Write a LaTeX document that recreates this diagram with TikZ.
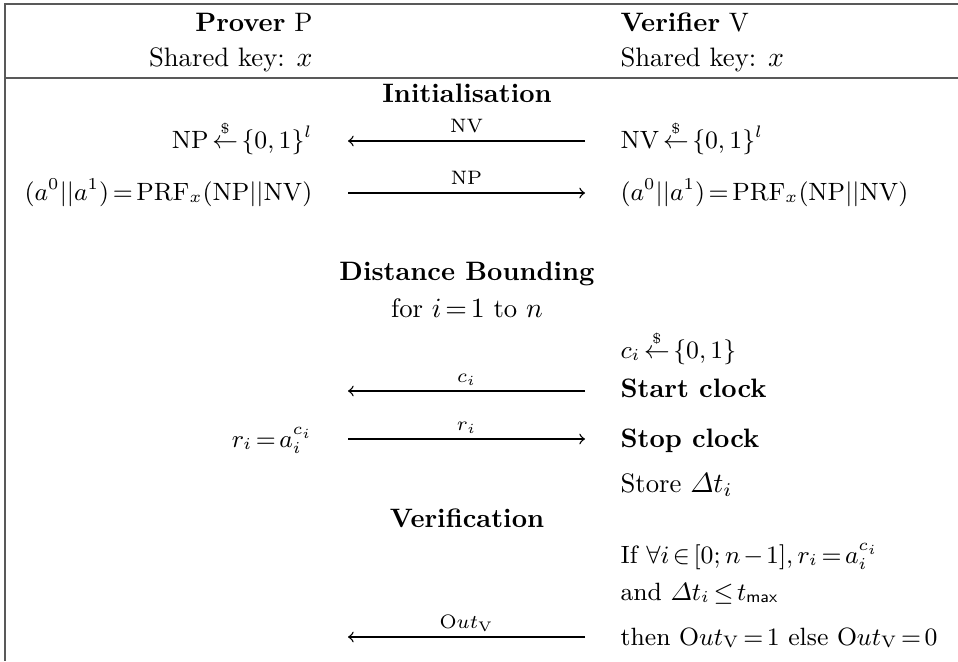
\documentclass[tikz,border=0pt]{standalone}
\usepackage{amsmath}
\usetikzlibrary{positioning}

\thickmuskip=2.5mu plus 2mu
\medmuskip=2mu plus 1mu

\begin{document}
\begin{tikzpicture}[
    x=0.36pt, y=-0.36pt,
    every node/.style={font=\fontsize{9.6pt}{11pt}\selectfont},
    prover/.style={anchor=base east, inner sep=0pt},
    verifier/.style={anchor=base west, inner sep=0pt},
    phase/.style={anchor=base, inner sep=0pt},
    mathrow/.style={font=\fontsize{9pt}{11pt}\selectfont},
    msg/.style={->, line width=0.5pt},
    msglabel/.style={anchor=base, inner sep=0pt, yshift=3pt, font=\scriptsize},
    rule/.style={draw=black!65, line width=0.7pt}
]

    % Columnas del protocolo
    \def\xP{313}
    \def\xM{467}
    \def\xV{620}
    \def\xA{348}
    \def\xB{585}
    \def\rnd{\overset{\scriptscriptstyle\$}{\leftarrow}}

    \useasboundingbox (0,0) rectangle (958,661);

    % Marco de la tabla
    \coordinate (TL) at (5,4);
    \coordinate (TR) at (958,4);
    \coordinate (ML) at (5,78);
    \coordinate (MR) at (958,78);
    \coordinate (BL) at (5,661);
    \draw[rule] (TR) -- (TL) -- (BL);
    \draw[rule] (ML) -- (MR);

    % Cabecera
    \node[prover] (hP) at (\xP,32) {\textbf{Prover} P};
    \node[prover] (kP) at (\xP,67) {Shared key: $x$};
    \node[verifier] (hV) at (\xV,32) {\textbf{Verifier} V};
    \node[verifier] (kV) at (\xV,67) {Shared key: $x$};

    % Inicializacion
    \node[phase] (init) at (\xM,103) {\textbf{Initialisation}};
    \node[prover, mathrow] (nP) at (\xP,148) {$\mathrm{NP}\rnd\{0,1\}^l$};
    \node[verifier, mathrow] (nV) at (\xV,148) {$\mathrm{NV}\rnd\{0,1\}^l$};
    \coordinate (m1r) at (\xB,141);
    \coordinate (m1l) at (\xA,141);
    \draw[msg] (m1r) -- (m1l) node[midway, msglabel] {NV};

    \node[prover, mathrow] (prfP) at (\xP,200) {$(a^0||a^1)=\mathrm{PRF}_x(\mathrm{NP}||\mathrm{NV})$};
    \node[verifier, mathrow] (prfV) at (\xV,200) {$(a^0||a^1)=\mathrm{PRF}_x(\mathrm{NP}||\mathrm{NV})$};
    \coordinate (m2l) at (\xA,193);
    \coordinate (m2r) at (\xB,193);
    \draw[msg] (m2l) -- (m2r) node[midway, msglabel] {NP};

    % Fase rapida
    \node[phase] (db) at (\xM,280) {\textbf{Distance Bounding}};
    \node[phase] (loop) at (\xM,317) {for $i=1$ to $n$};
    \node[verifier, mathrow] (ci) at (\xV,358) {$c_i\rnd\{0,1\}$};
    \node[verifier] (start) at (\xV,397) {\textbf{Start clock}};
    \coordinate (m3r) at (\xB,391);
    \coordinate (m3l) at (\xA,391);
    \draw[msg] (m3r) -- (m3l) node[midway, msglabel] {$c_i$};

    \node[prover, mathrow] (ri) at (\xP,447) {$r_i=a_i^{c_i}$};
    \node[verifier] (stop) at (\xV,447) {\textbf{Stop clock}};
    \coordinate (m4l) at (\xA,439);
    \coordinate (m4r) at (\xB,439);
    \draw[msg] (m4l) -- (m4r) node[midway, msglabel] {$r_i$};
    \node[verifier] (store) at (\xV,492) {Store $\varDelta t_i$};

    % Verificacion
    \node[phase] (verif) at (\xM,527) {\textbf{Verification}};
    \node[verifier, mathrow] (cond1) at (\xV,563) {If $\forall i\in[0;n-1], r_i=a_i^{c_i}$};
    \node[verifier, mathrow] (cond2) at (\xV,600) {and $\varDelta t_i\leq t_{\mathsf{max}}$};
    \node[verifier, mathrow] (out) at (\xV,645) {then $\mathrm{O}ut_{\mathrm{V}}=1$ else $\mathrm{O}ut_{\mathrm{V}}=0$};
    \coordinate (m5r) at (\xB,637);
    \coordinate (m5l) at (\xA,637);
    \draw[msg] (m5r) -- (m5l) node[midway, msglabel] {$\mathrm{O}ut_{\mathrm{V}}$};

\end{tikzpicture}
\end{document}
